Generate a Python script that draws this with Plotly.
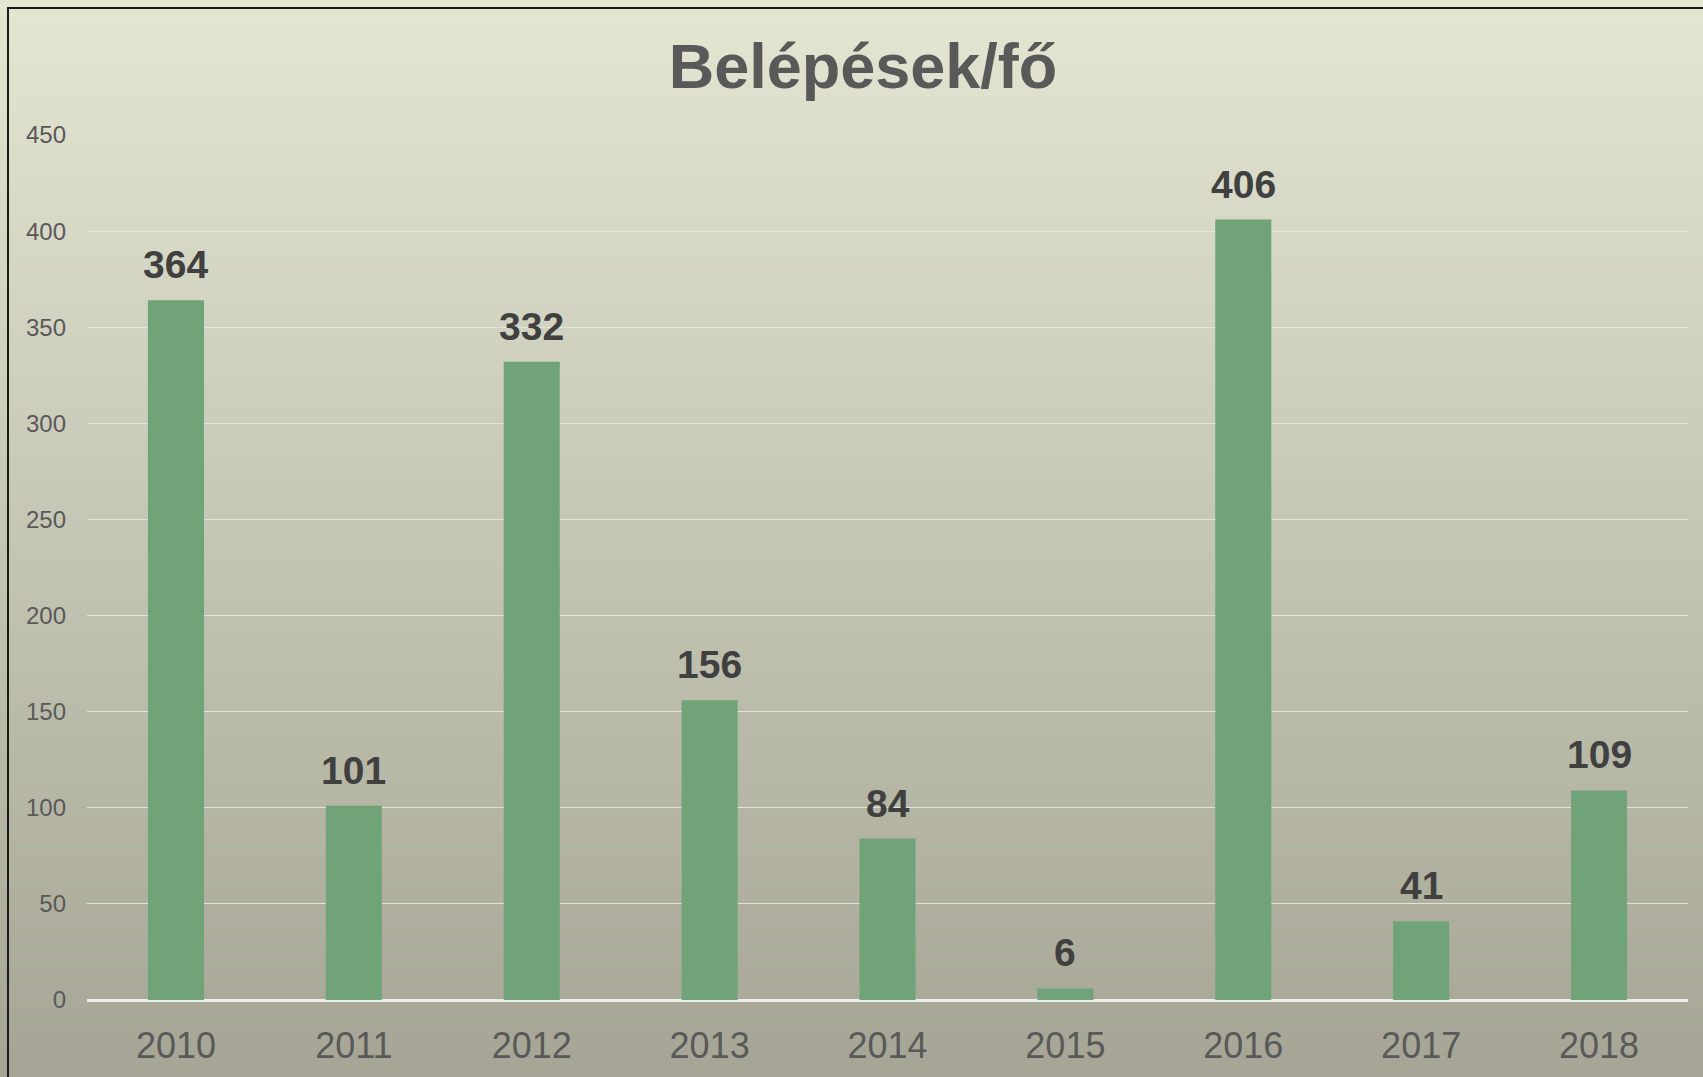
import plotly.graph_objects as go

years = ["2010", "2011", "2012", "2013", "2014", "2015", "2016", "2017", "2018"]
values = [364, 101, 332, 156, 84, 6, 406, 41, 109]
title_text = "Belépések/fő"
y_ticks = [0, 50, 100, 150, 200, 250, 300, 350, 400, 450]

W, H = 1703, 1077
ML, MR, MT, MB = 87, 15, 135, 77
PW, PH = W - ML - MR, H - MT - MB

def px_to_paper_x(px):
    return (px - ML) / PW

def py_to_paper_y(py):
    return (H - MB - py) / PH

fig = go.Figure()
fig.add_trace(go.Bar(
    x=years, y=values,
    marker=dict(color="#70a377", line=dict(width=0)),
    hoverinfo="x+y",
))

# data labels (x given as category index on the category axis)
for i, v in enumerate(values):
    fig.add_annotation(
        x=i, y=v, text=str(v), showarrow=False,
        xref="x", yref="y",
        yanchor="bottom", yshift=12,
        font=dict(family="Liberation Sans, Arial, sans-serif", size=39, color="#404040", weight="bold"),
    )

# gradient background bands
top = (228, 230, 210)
bot = (166, 165, 149)
N = 120
shapes = []
for i in range(N):
    t = (i + 0.5) / N
    c = tuple(round(top[k] + (bot[k] - top[k]) * t) for k in range(3))
    y0px = H * i / N
    y1px = H * (i + 1) / N + 1
    shapes.append(dict(
        type="rect", xref="paper", yref="paper", layer="below",
        x0=px_to_paper_x(-5), x1=px_to_paper_x(W + 5),
        y0=py_to_paper_y(y1px), y1=py_to_paper_y(y0px),
        line=dict(width=0), fillcolor="rgb(%d,%d,%d)" % c,
    ))
# frame border (top + left visible)
shapes.append(dict(
    type="rect", xref="paper", yref="paper", layer="above",
    x0=px_to_paper_x(8), x1=px_to_paper_x(W + 20),
    y0=py_to_paper_y(H + 20), y1=py_to_paper_y(8),
    line=dict(color="#1a1a1a", width=2), fillcolor="rgba(0,0,0,0)",
))

fig.update_layout(
    width=W, height=H,
    margin=dict(l=ML, r=MR, t=MT, b=MB, pad=0),
    paper_bgcolor="rgb(200,201,184)",
    plot_bgcolor="rgba(0,0,0,0)",
    shapes=shapes,
    bargap=0.685,
    showlegend=False,
    title=dict(
        text=title_text,
        x=px_to_paper_x(863), xref="paper", xanchor="center",
        y=1 - 66 / H, yref="container", yanchor="middle",
        font=dict(family="Liberation Sans, Arial, sans-serif", size=63, color="#595959", weight="bold"),
    ),
    font=dict(family="Liberation Sans, Arial, sans-serif", color="#595959"),
)
fig.update_xaxes(
    type="category", categoryarray=years, categoryorder="array",
    range=[-0.5, len(years) - 0.5],
    showgrid=False, showline=False, ticks="",
    tickfont=dict(size=36, color="#595959"), ticklabelstandoff=21,
)
fig.update_yaxes(
    range=[0, 450], tickvals=y_ticks, showgrid=True,
    gridcolor="rgba(228,228,225,0.95)", gridwidth=1.4,
    zeroline=True, zerolinecolor="#ececec", zerolinewidth=2.5,
    showline=False, ticks="",
    tickfont=dict(size=24, color="#595959"), ticklabelstandoff=20,
)

fig.write_html("out.html")
